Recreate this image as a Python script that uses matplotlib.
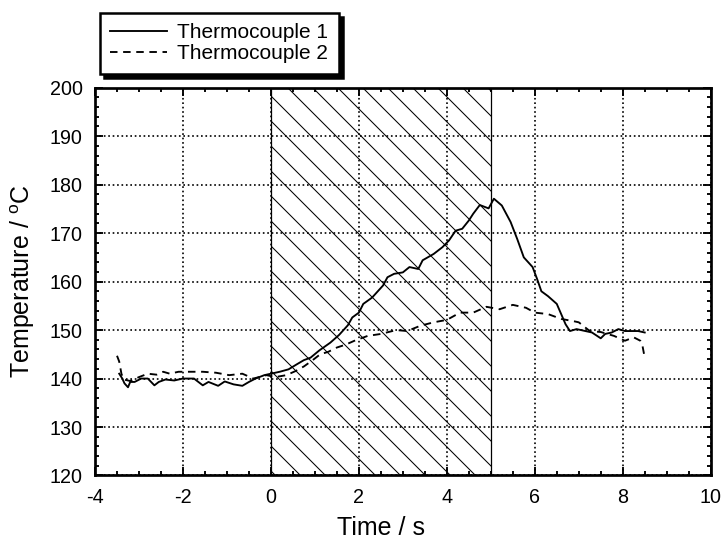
"""Thermocouple temperatures vs time, hatched heating window 0-5 s."""

import matplotlib
matplotlib.use("Agg")
import matplotlib.pyplot as plt
from matplotlib.ticker import MultipleLocator

# Thermocouple 1 (solid)
time_1 = [-3.45, -3.38, -3.33, -3.25, -3.2, -3.1, -2.95, -2.8, -2.65, -2.55,
          -2.4, -2.2, -2.0, -1.75, -1.55, -1.42, -1.2, -1.05, -0.85, -0.65,
          -0.5, -0.35, -0.15, 0.0, 0.2, 0.4, 0.6, 0.75, 0.9, 1.1,
          1.35, 1.55, 1.75, 1.85, 2.0, 2.1, 2.3, 2.55, 2.65, 2.8,
          3.0, 3.15, 3.35, 3.45, 3.7, 3.9, 4.05, 4.2, 4.35, 4.5,
          4.6, 4.75, 4.95, 5.07, 5.25, 5.45, 5.6, 5.75, 5.95, 6.05,
          6.15, 6.3, 6.5, 6.6, 6.7, 6.8, 6.95, 7.15, 7.3, 7.5,
          7.6, 7.75, 7.9, 8.05, 8.35, 8.5]
temp_1 = [141.0, 140.0, 139.0, 138.2, 139.3, 139.3, 140.0, 140.0, 138.6, 139.3,
          139.8, 139.6, 140.0, 140.0, 138.6, 139.3, 138.5, 139.4, 138.8, 138.5,
          139.3, 140.0, 140.7, 141.0, 141.4, 141.9, 143.0, 143.8, 144.3, 145.8,
          147.4, 149.0, 151.0, 152.6, 153.6, 155.4, 156.7, 159.2, 160.9, 161.6,
          161.9, 163.0, 162.6, 164.4, 165.7, 167.1, 168.5, 170.5, 170.9, 172.6,
          174.0, 175.8, 175.1, 177.1, 175.7, 172.3, 168.8, 165.0, 163.0, 160.6,
          158.0, 157.0, 155.4, 153.3, 151.2, 149.8, 150.2, 149.8, 149.5, 148.3,
          149.2, 149.5, 150.2, 149.8, 149.8, 149.5]

# Thermocouple 2 (dashed)
time_2 = [-3.5, -3.45, -3.4, -3.35, -3.2, -3.0, -2.8, -2.6, -2.45, -2.3,
          -2.1, -1.85, -1.55, -1.25, -0.95, -0.65, -0.4, -0.1, 0.1, 0.35,
          0.55, 0.75, 0.95, 1.12, 1.3, 1.5, 1.7, 1.9, 2.2, 2.5,
          2.85, 3.1, 3.4, 3.7, 4.0, 4.3, 4.6, 4.9, 5.2, 5.5,
          5.8, 6.0, 6.3, 6.6, 6.9, 7.0, 7.25, 7.5, 7.8, 8.05,
          8.25, 8.4, 8.45, 8.5]
temp_2 = [144.7, 143.5, 141.0, 139.8, 139.5, 140.3, 141.0, 140.8, 141.4, 141.0,
          141.4, 141.4, 141.4, 141.2, 140.7, 141.0, 140.0, 140.7, 140.3, 140.7,
          141.5, 142.5, 143.8, 145.0, 145.5, 146.4, 147.0, 147.8, 148.8, 149.2,
          150.0, 149.8, 150.9, 151.6, 152.1, 153.6, 153.6, 154.8, 154.3, 155.2,
          154.6, 153.6, 153.3, 152.3, 151.8, 151.6, 149.8, 149.6, 148.8, 147.8,
          148.5, 147.8, 146.7, 144.3]

# heating window
window = (0.0, 5.0)

plt.rcParams["font.family"] = ["Liberation Sans", "DejaVu Sans"]
plt.rcParams["mathtext.fontset"] = "custom"
plt.rcParams["mathtext.rm"] = "Liberation Sans"
plt.rcParams["hatch.linewidth"] = 0.5
plt.rcParams["axes.unicode_minus"] = False

DPI = 150
fig = plt.figure(figsize=(721 / DPI, 542 / DPI), dpi=DPI)
ax = fig.add_axes([0.1318, 0.1227, 0.8539, 0.7155])

# two backslashes -> denser hatch, matches the ~25 px spacing
ax.axvspan(*window, facecolor="none", edgecolor="black", hatch="\\\\",
           linewidth=0.6, zorder=1)

ax.plot(time_1, temp_1, color="black", lw=0.9, label="Thermocouple 1", zorder=3)
ax.plot(time_2, temp_2, color="black", lw=0.9, dashes=(4, 3),
        label="Thermocouple 2", zorder=3)

ax.set_xlim(-4, 10)
ax.set_ylim(120, 200)
ax.xaxis.set_major_locator(MultipleLocator(2))
ax.xaxis.set_minor_locator(MultipleLocator(0.5))
ax.yaxis.set_major_locator(MultipleLocator(10))
ax.yaxis.set_minor_locator(MultipleLocator(2))

ax.grid(True, which="major", color="black", linestyle=":", linewidth=0.8, zorder=0)
ax.tick_params(which="both", direction="in", top=True, right=True,
               color="black", width=0.9)
ax.tick_params(which="major", length=4, labelsize=9.5, pad=6)
ax.tick_params(which="minor", length=2)
for sp in ax.spines.values():
    sp.set_linewidth(1.3)

ax.set_xlabel("Time / s", fontsize=12)
ax.set_ylabel("Temperature / $^{\\rm o}$C", fontsize=12)
ax.xaxis.set_label_coords(0.465, -0.105)
ax.yaxis.set_label_coords(-0.095, 0.5)

leg = fig.legend(loc="upper left", bbox_to_anchor=(0.1387, 0.9766),
                 fontsize=10, frameon=True, fancybox=False,
                 shadow={"facecolor": "black", "edgecolor": "black", "alpha": 1},
                 handlelength=2.7, handletextpad=0.5, labelspacing=0.1,
                 borderpad=0.5, borderaxespad=0)
leg.get_frame().set_edgecolor("black")
leg.get_frame().set_linewidth(1.2)
leg.get_frame().set_alpha(1)

fig.savefig("out.png", dpi=DPI)
